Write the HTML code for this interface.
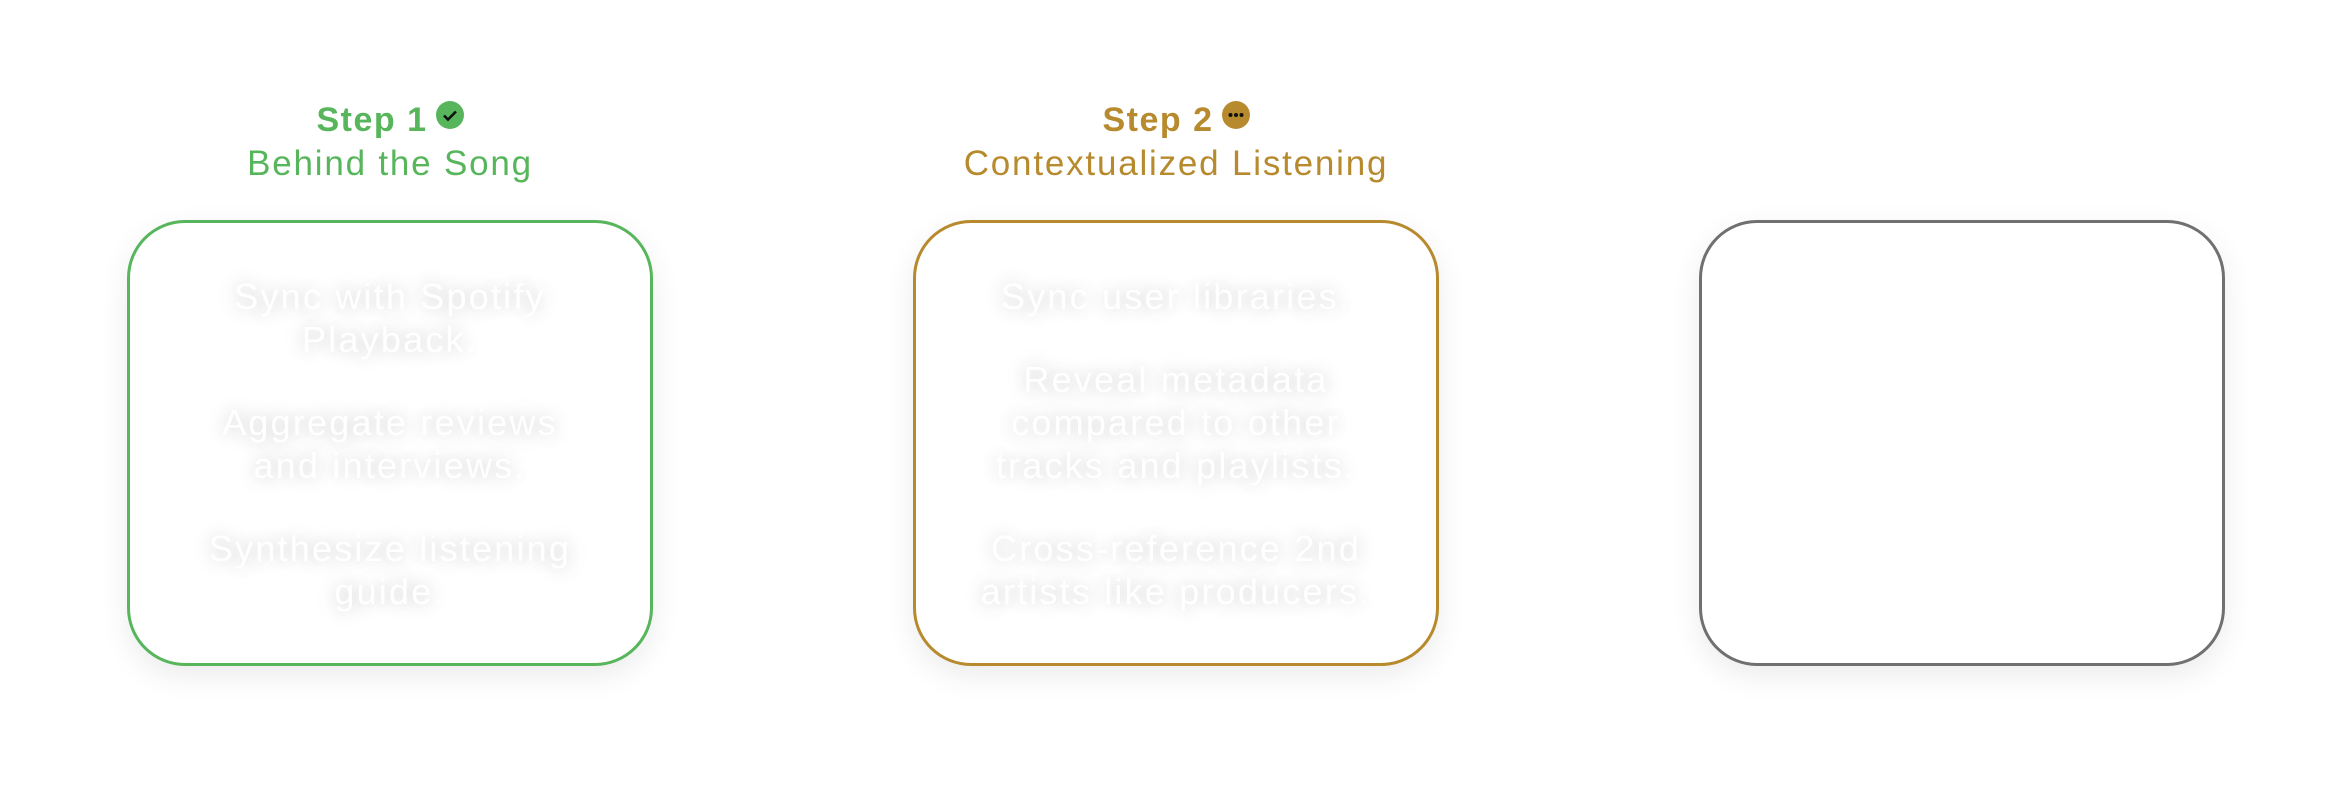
<!DOCTYPE html>
<html><head><style>
body{margin:0;width:2352px;height:798px;background:#fff;font-family:"Liberation Sans",sans-serif;overflow:hidden;position:relative}
.col{position:absolute;top:0;width:526px}
.h{position:absolute;top:98px;left:0;width:100%;text-align:center}
.s{font-weight:bold;font-size:34px;line-height:44px;letter-spacing:1.5px}
.t{font-size:35px;line-height:44px;letter-spacing:1.8px}
.ic{display:inline-block;width:28px;height:28px;border-radius:50%;vertical-align:2px;margin-left:8px;position:relative}
.box{position:absolute;top:220px;left:0;width:520px;height:440px;border:3px solid;border-radius:58px;box-shadow:0 10px 30px rgba(0,0,0,0.08);background:#fff}
.txt{position:absolute;top:52px;left:-30px;width:580px;text-align:center;color:#fff;font-size:36px;line-height:43px;letter-spacing:2.2px;text-shadow:0 0 16px rgba(0,0,0,0.16),0 0 32px rgba(0,0,0,0.12)}
.txt p{margin:0 0 40px}
</style></head><body>
<div class="col" style="left:127px">
 <div class="h" style="color:#57b55c"><div class="s">Step 1<span class="ic" style="background:#57b55c"><svg width="28" height="28" style="position:absolute;left:0;top:0"><path d="M8 14.5l4 4 8-8" stroke="#111" stroke-width="2.6" fill="none"/></svg></span></div><div class="t">Behind the Song</div></div>
 <div class="box" style="border-color:#57b55c"><div class="txt"><p>Sync with Spotify<br>Playback.</p><p>Aggregate reviews<br>and interviews.</p><p>Synthesize listening<br>guide.</p></div></div>
</div>
<div class="col" style="left:913px">
 <div class="h" style="color:#b78a2e"><div class="s">Step 2<span class="ic" style="background:#b78a2e"><svg width="28" height="28" style="position:absolute;left:0;top:0"><circle cx="8.5" cy="14" r="2" fill="#111"/><circle cx="14" cy="14" r="2" fill="#111"/><circle cx="19.5" cy="14" r="2" fill="#111"/></svg></span></div><div class="t">Contextualized Listening</div></div>
 <div class="box" style="border-color:#b78a2e"><div class="txt"><p>Sync user libraries.</p><p>Reveal metadata<br>compared to other<br>tracks and playlists.</p><p>Cross-reference 2nd<br>artists like producers.</p></div></div>
</div>
<div class="col" style="left:1699px">
 <div class="box" style="border-color:#707070"></div>
</div>
</body></html>
